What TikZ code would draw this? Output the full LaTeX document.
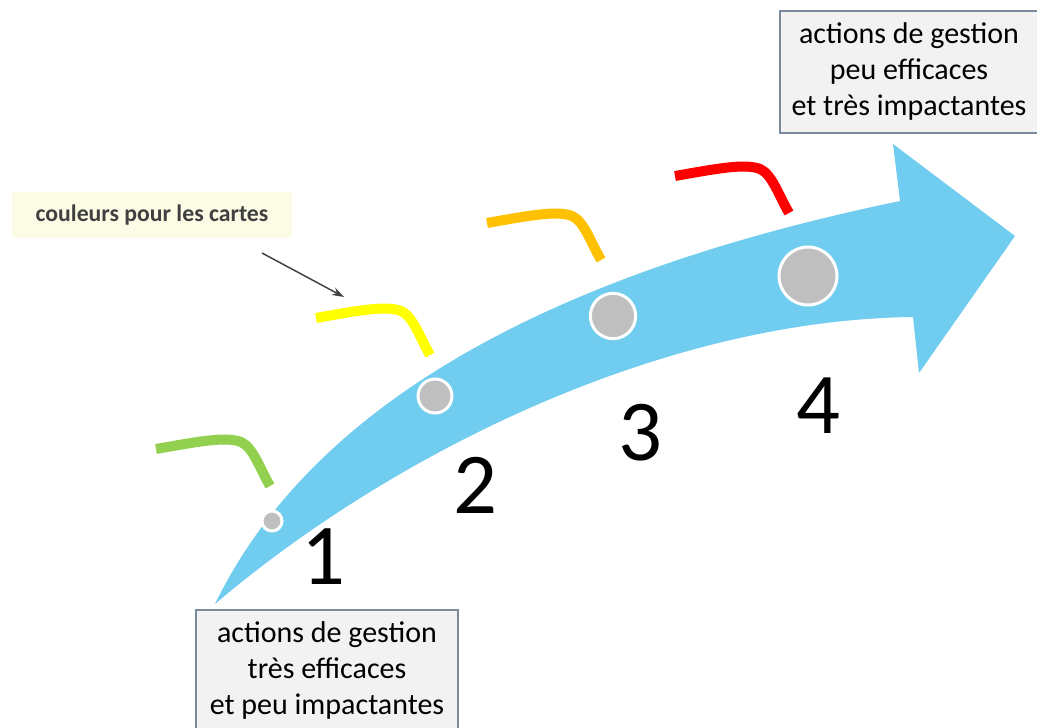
\documentclass[tikz,border=0pt]{standalone}
\usepackage{fontspec}
\setmainfont{Carlito}
\usetikzlibrary{arrows.meta}

\definecolor{arrowblue}{RGB}{113,205,240}
\definecolor{dotgray}{RGB}{191,191,191}
\definecolor{boxfill}{RGB}{242,242,242}
\definecolor{boxborder}{RGB}{122,140,156}
\definecolor{notefill}{RGB}{252,252,230}
\definecolor{notetext}{RGB}{64,64,64}
\definecolor{cardgreen}{RGB}{146,208,80}
\definecolor{cardyellow}{RGB}{255,255,0}
\definecolor{cardorange}{RGB}{255,192,0}
\definecolor{cardred}{RGB}{255,0,0}

\tikzset{every picture/.style={line width=0.75pt}}
\tikzset{
  cardstroke/.style={line width=7.5pt},
  dot/.style={circle, fill=dotgray, draw=white, line width=2.25pt, inner sep=0pt},
  stepnum/.style={font=\fontsize{65}{78}\selectfont, inner sep=0.75pt},
  infobox/.style={draw=boxborder, fill=boxfill, line width=1.5pt, align=center,
    inner ysep=9pt, font=\fontsize{22.5}{27}\selectfont},
}

\begin{document}
\begin{tikzpicture}[x=0.75pt,y=0.75pt,yscale=-1,xscale=1]
\useasboundingbox (0,0) rectangle (1037,727);

%Shape: Curved Arrow
\draw [draw=none, fill=arrowblue] (215,604) .. controls (290,450) and (470,290) .. (900,201) -- (893,144) -- (1015,236) -- (919,373) -- (913,317) .. controls (660,320) and (390,455) .. (215,604) -- cycle;

%Curve Lines (card colours)
\draw [cardstroke, draw=cardgreen, shift={(156,449)}] (0,0) .. controls (40,-7) and (70,-13) .. (85,-7) .. controls (97,-2) and (104,20) .. (114,37) ;
\draw [cardstroke, draw=cardyellow, shift={(316,318)}] (0,0) .. controls (40,-7) and (70,-13) .. (85,-7) .. controls (97,-2) and (104,20) .. (114,37) ;
\draw [cardstroke, draw=cardorange, shift={(487,223)}] (0,0) .. controls (40,-7) and (70,-13) .. (85,-7) .. controls (97,-2) and (104,20) .. (114,37) ;
\draw [cardstroke, draw=cardred, shift={(675,176)}] (0,0) .. controls (40,-7) and (70,-13) .. (85,-7) .. controls (97,-2) and (104,20) .. (114,37) ;

%Shape: Circles
\node [dot, minimum size=15pt] (dot1) at (272,521) {};
\node [dot, minimum size=25.5pt] (dot2) at (435,396) {};
\node [dot, minimum size=34pt] (dot3) at (613,316) {};
\node [dot, minimum size=43.5pt] (dot4) at (808,276) {};

% Text Node
\node [stepnum] (num1) at (323,557) {1};
% Text Node
\node [stepnum] (num2) at (475,485) {2};
% Text Node
\node [stepnum] (num3) at (640,433) {3};
% Text Node
\node [stepnum] (num4) at (818,406) {4};

% Text Node
\node [infobox, anchor=north, minimum width=196.5pt] (good) at (327,609) {actions de gestion\\très efficaces\\et peu impactantes};
% Text Node
\node [infobox, anchor=north west, minimum width=193.5pt] (bad) at (779,10) {actions de gestion\\peu efficaces\\et très impactantes};

% Text Node
\node [fill=notefill, text=notetext, minimum width=210pt, minimum height=34.5pt, font=\fontsize{17.8}{21}\selectfont\bfseries] (note) at (152,215) {couleurs pour les cartes};

%Straight Lines
\coordinate (ptrstart) at (262,253);
\coordinate (ptrend) at (344,297);
\draw [draw=notetext, line width=1.1pt, -{Stealth[length=9pt,width=6pt]}] (ptrstart) -- (ptrend) ;

\end{tikzpicture}
\end{document}
